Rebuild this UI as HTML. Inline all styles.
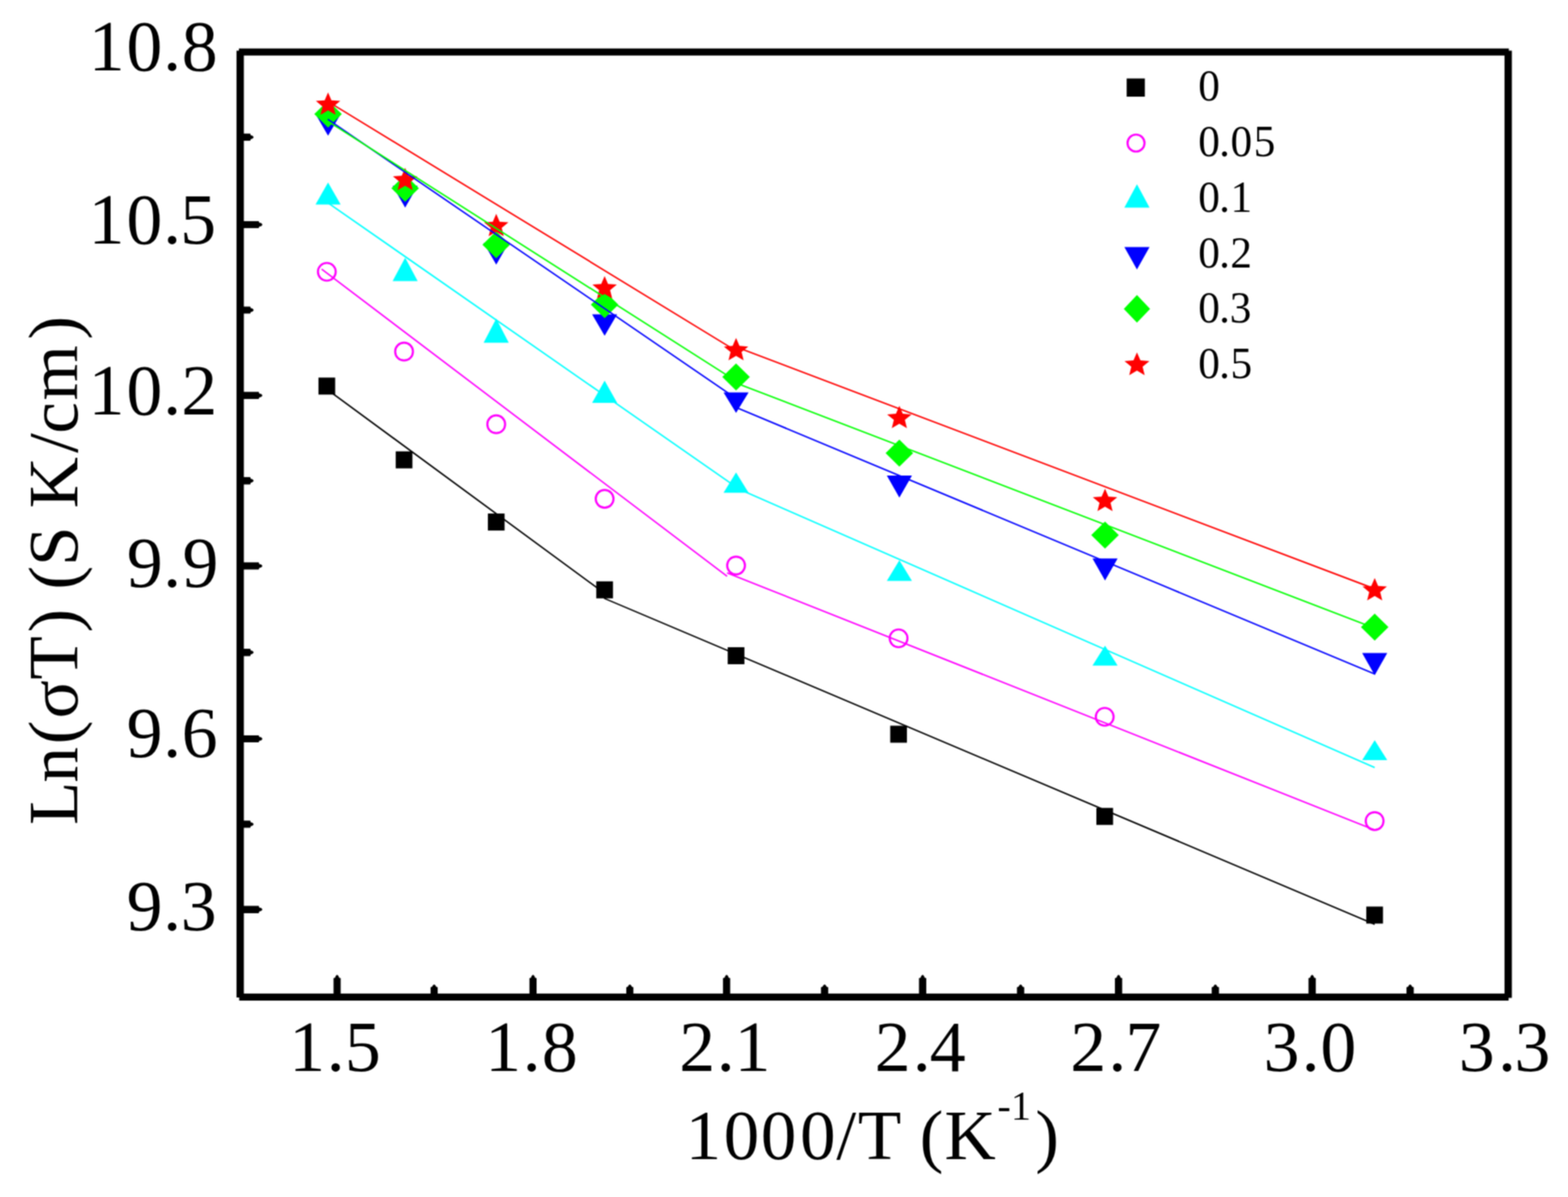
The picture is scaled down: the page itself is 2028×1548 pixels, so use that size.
<!DOCTYPE html>
<html><head><meta charset="utf-8"><title>Ln(σT) vs 1000/T</title>
<style>
html,body{margin:0;padding:0;background:#fff;}
svg{display:block;}
#wrap{width:2028px;height:1548px;}
text{font-family:"Liberation Serif","Times New Roman",serif;fill:#000;stroke:none;}
</style></head><body>
<div id="wrap">
<svg width="2028" height="1548" viewBox="0 0 2028 1548">
<defs><filter id="soft" x="0" y="0" width="1" height="1" color-interpolation-filters="sRGB"><feConvolveMatrix order="3" kernelMatrix="1 2 1 2 4 2 1 2 1" edgeMode="duplicate" preserveAlpha="true"/></filter></defs>
<rect width="2028" height="1548" fill="#fff"/>
<g filter="url(#soft)">
<rect width="2028" height="1548" fill="#fff"/>

<g id="markers"><rect x="411.9" y="488.3" width="21.6" height="22.0" fill="#000"/><rect x="511.8" y="583.7" width="21.6" height="22.0" fill="#000"/><rect x="631.0" y="664.1" width="21.6" height="22.0" fill="#000"/><rect x="771.2" y="751.8" width="21.6" height="22.0" fill="#000"/><rect x="941.2" y="837.0" width="21.6" height="22.0" fill="#000"/><rect x="1151.4" y="938.5" width="21.6" height="22.0" fill="#000"/><rect x="1418.0" y="1044.8" width="21.6" height="22.0" fill="#000"/><rect x="1767.1" y="1172.4" width="21.6" height="22.0" fill="#000"/><circle cx="422.7" cy="351.5" r="11.5" fill="none" stroke="#f0f" stroke-width="2.7"/><circle cx="522.6" cy="454.7" r="11.5" fill="none" stroke="#f0f" stroke-width="2.7"/><circle cx="641.8" cy="548.7" r="11.5" fill="none" stroke="#f0f" stroke-width="2.7"/><circle cx="782.0" cy="645.1" r="11.5" fill="none" stroke="#f0f" stroke-width="2.7"/><circle cx="952.0" cy="731.3" r="11.5" fill="none" stroke="#f0f" stroke-width="2.7"/><circle cx="1162.2" cy="825.5" r="11.5" fill="none" stroke="#f0f" stroke-width="2.7"/><circle cx="1428.8" cy="927.0" r="11.5" fill="none" stroke="#f0f" stroke-width="2.7"/><circle cx="1777.9" cy="1061.8" r="11.5" fill="none" stroke="#f0f" stroke-width="2.7"/><path d="M424.3,235.9L440.6,264.5L408.1,264.5Z" fill="#0ff"/><path d="M524.0,333.2L540.2,363.4L507.8,363.4Z" fill="#0ff"/><path d="M641.8,412.1L658.0,443.2L625.5,443.2Z" fill="#0ff"/><path d="M782.0,492.3L798.2,521.0L765.8,521.0Z" fill="#0ff"/><path d="M952.0,611.0L968.2,637.3L935.8,637.3Z" fill="#0ff"/><path d="M1163.2,724.4L1179.5,751.2L1147.0,751.2Z" fill="#0ff"/><path d="M1429.2,835.1L1445.5,860.8L1413.0,860.8Z" fill="#0ff"/><path d="M1778.0,957.3L1794.2,983.1L1761.8,983.1Z" fill="#0ff"/><path d="M408.1,147.4L440.6,147.4L424.3,175.5Z" fill="#00f"/><path d="M507.8,240.3L540.2,240.3L524.0,268.4Z" fill="#00f"/><path d="M625.5,314.1L658.0,314.1L641.8,342.2Z" fill="#00f"/><path d="M765.8,406.4L798.2,406.4L782.0,434.3Z" fill="#00f"/><path d="M935.8,507.6L968.2,507.6L952.0,533.9Z" fill="#00f"/><path d="M1147.0,614.9L1179.5,614.9L1163.2,643.6Z" fill="#00f"/><path d="M1413.0,722.2L1445.5,722.2L1429.2,750.8Z" fill="#00f"/><path d="M1761.8,844.6L1794.2,844.6L1778.0,873.3Z" fill="#00f"/><path d="M424.3,129.9L442.1,147.4L424.3,164.9L406.5,147.4Z" fill="#0f0"/><path d="M524.0,225.9L541.8,243.4L524.0,260.9L506.2,243.4Z" fill="#0f0"/><path d="M641.8,299.0L659.6,316.5L641.8,334.0L624.0,316.5Z" fill="#0f0"/><path d="M782.0,376.6L799.8,394.1L782.0,411.6L764.2,394.1Z" fill="#0f0"/><path d="M952.0,469.9L969.8,487.4L952.0,504.9L934.2,487.4Z" fill="#0f0"/><path d="M1163.2,568.5L1181.0,586.0L1163.2,603.5L1145.4,586.0Z" fill="#0f0"/><path d="M1429.2,674.6L1447.0,692.1L1429.2,709.6L1411.4,692.1Z" fill="#0f0"/><path d="M1778.0,793.4L1795.8,810.9L1778.0,828.4L1760.2,810.9Z" fill="#0f0"/><path d="M424.3,119.5 L428.7,129.7 L440.1,130.6 L431.4,137.7 L434.1,148.4 L424.3,142.7 L414.5,148.4 L417.2,137.7 L408.5,130.6 L419.9,129.7Z" fill="#f00"/><path d="M524.0,217.0 L528.4,227.2 L539.8,228.1 L531.1,235.2 L533.8,245.9 L524.0,240.2 L514.2,245.9 L516.9,235.2 L508.2,228.1 L519.6,227.2Z" fill="#f00"/><path d="M641.8,276.5 L646.2,286.7 L657.6,287.6 L648.9,294.7 L651.6,305.4 L641.8,299.7 L632.0,305.4 L634.7,294.7 L626.0,287.6 L637.4,286.7Z" fill="#f00"/><path d="M782.0,357.0 L786.4,367.2 L797.8,368.1 L789.1,375.2 L791.8,385.9 L782.0,380.2 L772.2,385.9 L774.9,375.2 L766.2,368.1 L777.6,367.2Z" fill="#f00"/><path d="M952.0,437.1 L956.4,447.3 L967.8,448.2 L959.1,455.3 L961.8,466.0 L952.0,460.3 L942.2,466.0 L944.9,455.3 L936.2,448.2 L947.6,447.3Z" fill="#f00"/><path d="M1163.2,524.8 L1167.6,535.0 L1179.0,535.9 L1170.3,543.0 L1173.0,553.7 L1163.2,548.0 L1153.4,553.7 L1156.1,543.0 L1147.4,535.9 L1158.8,535.0Z" fill="#f00"/><path d="M1429.2,632.0 L1433.6,642.2 L1445.0,643.1 L1436.3,650.2 L1439.0,660.9 L1429.2,655.2 L1419.4,660.9 L1422.1,650.2 L1413.4,643.1 L1424.8,642.2Z" fill="#f00"/><path d="M1778.0,747.5 L1782.4,757.7 L1793.8,758.6 L1785.1,765.7 L1787.8,776.4 L1778.0,770.7 L1768.2,776.4 L1770.9,765.7 L1762.2,758.6 L1773.6,757.7Z" fill="#f00"/></g>
<g id="lines"><path d="M424.0,504.3L782.0,767.3L782.0,774.0L1778.0,1195.3" stroke="#000" stroke-width="1.9" fill="none" stroke-linejoin="round"/><path d="M416.0,348.1L940.4,745.3M940.4,740.9L1778.0,1073.3" stroke="#f0f" stroke-width="1.9" fill="none" stroke-linejoin="round"/><path d="M424.0,262.2L952.0,629.7L952.0,630.9L1778.0,992.6" stroke="#0ff" stroke-width="1.9" fill="none" stroke-linejoin="round"/><path d="M424.0,154.3L952.0,515.3L952.0,526.9L1778.0,871.6" stroke="#00f" stroke-width="1.9" fill="none" stroke-linejoin="round"/><path d="M424.0,156.7L952.0,492.8L952.0,495.3L1778.0,812.4" stroke="#0f0" stroke-width="1.9" fill="none" stroke-linejoin="round"/><path d="M424.0,131.2L952.0,453.7L952.0,448.7L1778.0,761.5" stroke="#f00" stroke-width="1.9" fill="none" stroke-linejoin="round"/></g>
<g id="frame" fill="#000"><rect x="309.0" y="62.7" width="1642.5" height="9.1"/><rect x="309.4" y="1284.9" width="1641.8" height="9.1"/><rect x="305.9" y="65.5" width="9.5" height="1224.5"/><rect x="1945.9" y="65.5" width="9.5" height="1225.0"/></g>
<g id="ticks" fill="#000"><path d="M431.4,1289.5L431.4,1265.0L433.5,1264.2L434.1,1262.2L436.0,1260.6L437.9,1262.2L438.5,1264.2L440.6,1265.0L440.6,1289.5Z"/><path d="M684.8,1289.5L684.8,1265.0L686.9,1264.2L687.5,1262.2L689.4,1260.6L691.3,1262.2L691.9,1264.2L694.0,1265.0L694.0,1289.5Z"/><path d="M935.1,1289.5L935.1,1265.0L937.3,1264.2L937.9,1262.2L939.8,1260.6L941.7,1262.2L942.3,1264.2L944.4,1265.0L944.4,1289.5Z"/><path d="M1188.6,1289.5L1188.6,1265.0L1190.8,1264.2L1191.4,1262.2L1193.3,1260.6L1195.2,1262.2L1195.8,1264.2L1198.0,1265.0L1198.0,1289.5Z"/><path d="M1442.0,1289.5L1442.0,1265.0L1444.2,1264.2L1444.8,1262.2L1446.7,1260.6L1448.6,1262.2L1449.2,1264.2L1451.4,1265.0L1451.4,1289.5Z"/><path d="M1692.4,1289.5L1692.4,1265.0L1694.6,1264.2L1695.2,1262.2L1697.1,1260.6L1699.0,1262.2L1699.6,1264.2L1701.8,1265.0L1701.8,1289.5Z"/><path d="M556.9,1289.5L556.9,1276.8L559.0,1276.0L559.6,1274.5L561.5,1272.9L563.4,1274.5L564.0,1276.0L566.1,1276.8L566.1,1289.5Z"/><path d="M810.0,1289.5L810.0,1276.8L812.1,1276.0L812.7,1274.5L814.6,1272.9L816.5,1274.5L817.1,1276.0L819.2,1276.8L819.2,1289.5Z"/><path d="M1061.8,1289.5L1061.8,1276.8L1064.0,1276.0L1064.6,1274.5L1066.5,1272.9L1068.4,1274.5L1069.0,1276.0L1071.2,1276.8L1071.2,1289.5Z"/><path d="M1315.3,1289.5L1315.3,1276.8L1317.5,1276.0L1318.1,1274.5L1320.0,1272.9L1321.9,1274.5L1322.5,1276.0L1324.7,1276.8L1324.7,1289.5Z"/><path d="M1567.2,1289.5L1567.2,1276.8L1569.4,1276.0L1570.0,1274.5L1571.9,1272.9L1573.8,1274.5L1574.4,1276.0L1576.6,1276.8L1576.6,1289.5Z"/><path d="M1819.1,1289.5L1819.1,1276.8L1821.3,1276.0L1821.9,1274.5L1823.8,1272.9L1825.7,1274.5L1826.3,1276.0L1828.5,1276.8L1828.5,1289.5Z"/><path d="M310.6,285.9L334.6,285.9L335.4,288.0L337.9,288.6L339.5,290.5L337.9,292.4L335.4,293.0L334.6,295.1L310.6,295.1Z"/><path d="M310.6,506.8L334.6,506.8L335.4,508.9L337.9,509.5L339.5,511.4L337.9,513.3L335.4,513.9L334.6,516.0L310.6,516.0Z"/><path d="M310.6,727.2L334.6,727.2L335.4,729.4L337.9,730.0L339.5,731.9L337.9,733.8L335.4,734.4L334.6,736.5L310.6,736.5Z"/><path d="M310.6,950.9L334.6,950.9L335.4,953.0L337.9,953.6L339.5,955.5L337.9,957.4L335.4,958.0L334.6,960.1L310.6,960.1Z"/><path d="M310.6,1171.5L334.6,1171.5L335.4,1173.7L337.9,1174.3L339.5,1176.2L337.9,1178.1L335.4,1178.7L334.6,1180.9L310.6,1180.9Z"/><path d="M310.6,172.8L323.6,172.8L324.4,174.9L326.6,175.5L328.2,177.4L326.6,179.3L324.4,179.9L323.6,182.1L310.6,182.1Z"/><path d="M310.6,396.4L323.6,396.4L324.4,398.5L326.6,399.1L328.2,401.0L326.6,402.9L324.4,403.5L323.6,405.6L310.6,405.6Z"/><path d="M310.6,617.1L323.6,617.1L324.4,619.2L326.6,619.8L328.2,621.7L326.6,623.6L324.4,624.2L323.6,626.4L310.6,626.4Z"/><path d="M310.6,839.1L323.6,839.1L324.4,841.2L326.6,841.8L328.2,843.7L326.6,845.6L324.4,846.2L323.6,848.4L310.6,848.4Z"/><path d="M310.6,1061.2L323.6,1061.2L324.4,1063.4L326.6,1064.0L328.2,1065.9L326.6,1067.8L324.4,1068.4L323.6,1070.6L310.6,1070.6Z"/></g>
<g id="ticklabels"><text x="114.8 163.6 211.1 235.1" y="91.0" font-size="93">10.8</text><text x="114.5 163.6 210.9 233.0" y="315.0" font-size="93">10.5</text><text x="114.5 163.6 211.0 234.4" y="535.8" font-size="93">10.2</text><text x="164.0 211.1 235.9" y="759.3" font-size="93">9.9</text><text x="163.7 211.1 234.9" y="979.2" font-size="93">9.6</text><text x="163.7 211.1 233.8" y="1202.6" font-size="93">9.3</text><text x="374.1 422.5 446.0" y="1385.2" font-size="93">1.5</text><text x="627.5 675.9 700.8" y="1385.2" font-size="93">1.8</text><text x="878.4 926.9 950.0" y="1385.2" font-size="93">2.1</text><text x="1131.3 1180.4 1202.6" y="1385.2" font-size="93">2.4</text><text x="1384.3 1433.4 1455.4" y="1385.2" font-size="93">2.7</text><text x="1634.3 1683.4 1707.8" y="1385.2" font-size="93">3.0</text><text x="1886.8 1937.4 1958.8" y="1385.2" font-size="93">3.3</text></g>
<text y="1499" font-size="92"><tspan x="886.8 936.0 983.9 1034.7 1081.7 1109.5 1165.7 1189.5 1221.4">1000/T (K</tspan><tspan x="1289.9 1307.6" y="1448.3" font-size="52">-1</tspan><tspan x="1339.1" y="1499">)</tspan></text>
<text transform="translate(99.7,1100.0) rotate(-90)" x="32.9 88.1 137.4 170.7 220.9 282.1 312.8 337.5 367.9 419.1 442.5 514.2 539.3 582.1 660.8" y="0" font-size="92">Ln(σT) (S K/cm)</text>
<g id="legend"><rect x="1457.2" y="101.5" width="23.5" height="23.5" fill="#000"/><circle cx="1469.3" cy="185.0" r="11.0" fill="none" stroke="#f0f" stroke-width="2.7"/><path d="M1470.5,238.3L1486.8,268.4L1454.2,268.4Z" fill="#0ff"/><path d="M1454.2,319.4L1486.8,319.4L1470.5,348.6Z" fill="#00f"/><path d="M1470.5,381.6L1487.5,399.4L1470.5,417.2L1453.5,399.4Z" fill="#0f0"/><path d="M1470.5,455.7 L1475.0,466.1 L1486.6,467.0 L1477.8,474.3 L1480.5,485.2 L1470.5,479.3 L1460.5,485.2 L1463.2,474.3 L1454.4,467.0 L1466.0,466.1Z" fill="#f00"/><text x="1549.8" y="130.2" font-size="56">0</text><text x="1549.8 1576.7 1591.4 1621.5" y="202.3" font-size="56">0.05</text><text x="1549.8 1576.7 1591.6" y="273.8" font-size="56">0.1</text><text x="1549.8 1576.7 1591.2" y="345.5" font-size="56">0.2</text><text x="1549.8 1576.7 1590.4" y="416.9" font-size="56">0.3</text><text x="1549.8 1576.7 1591.4" y="488.5" font-size="56">0.5</text></g>
</g></svg></div></body></html>
